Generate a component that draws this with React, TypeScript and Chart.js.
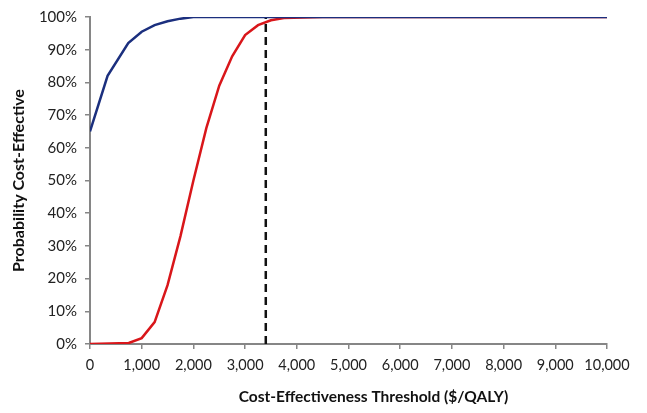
import React, { useEffect, useRef } from "react";
import { Chart, registerables } from "chart.js";

Chart.register(...registerables);

const xTickValues = [0, 1000, 2000, 3000, 4000, 5000, 6000, 7000, 8000, 9000, 10000];
const yTickValues = [0, 10, 20, 30, 40, 50, 60, 70, 80, 90, 100];

const blueX = [0, 340, 740, 1000, 1250, 1500, 1750, 2000, 10000];
const blueY = [65, 82, 92, 95.5, 97.5, 98.7, 99.5, 100, 100];

const redX = [0, 750, 1000, 1250, 1500, 1750, 2000, 2250, 2500, 2750, 3000, 3250, 3500, 3750, 4500, 10000];
const redY = [0, 0.3, 1.8, 6.7, 18, 33, 50, 66, 79, 88, 94.5, 97.5, 99, 99.7, 100, 100];

const thresholdX = [3400, 3400];
const thresholdY = [0, 100];

const xTitle = "Cost-Effectiveness Threshold ($/QALY)";
const yTitle = "Probability Cost-Effective";

const toPoints = (xs: number[], ys: number[]) => xs.map((x, i) => ({ x, y: ys[i] }));

const xTitlePlugin = {
  id: "xTitleOffset",
  afterDraw(chart: any) {
    const c = chart.ctx;
    const area = chart.chartArea;
    c.save();
    c.font = "bold 15.5px Lato";
    c.fillStyle = "#111";
    c.textAlign = "center";
    c.textBaseline = "middle";
    c.fillText(xTitle, (area.left + area.right) / 2 + 25, chart.height - 16);
    c.restore();
  },
};

export default function App() {
  const ref = useRef<HTMLCanvasElement | null>(null);
  useEffect(() => {
    document.body.style.margin = "0";
    const ctx = ref.current!.getContext("2d")!;
    const axisColor = "#868686";
    const chart = new Chart(ctx, {
      type: "scatter",
      data: {
        datasets: [
          {
            data: toPoints(blueX, blueY),
            showLine: true,
            borderColor: "#1b2f7e",
            borderWidth: 2.5,
            pointRadius: 0,
            tension: 0,
            order: 0,
          },
          {
            data: toPoints(thresholdX, thresholdY),
            showLine: true,
            borderColor: "#111111",
            borderWidth: 2.5,
            borderDash: [8, 5],
            pointRadius: 0,
            order: 1,
          },
          {
            data: toPoints(redX, redY),
            showLine: true,
            borderColor: "#d9161a",
            borderWidth: 2.5,
            pointRadius: 0,
            tension: 0,
            order: 2,
          },
        ],
      },
      plugins: [xTitlePlugin],
      options: {
        animation: false,
        responsive: false,
        layout: { padding: { left: 0, right: 40, top: 15, bottom: 0 } },
        plugins: { legend: { display: false }, tooltip: { enabled: false } },
        scales: {
          x: {
            type: "linear",
            min: 0,
            max: 10000,
            afterFit: (s: any) => { s.height = 69; },
            afterBuildTicks: (s: any) => { s.ticks = xTickValues.map((v) => ({ value: v })); },
            ticks: {
              color: "#222",
              font: { family: "Lato", size: 14.5 },
              padding: 8,
              maxRotation: 0,
              callback: (v: any) => Number(v).toLocaleString("en-US"),
            },
            grid: { display: true, drawOnChartArea: false, drawTicks: true, tickLength: 5, color: axisColor, lineWidth: 1.5 },
            border: { display: true, color: axisColor, width: 2 },
            title: { display: false },
          },
          y: {
            min: 0,
            max: 100,
            afterFit: (s: any) => { s.width = 90; },
            afterBuildTicks: (s: any) => { s.ticks = yTickValues.map((v) => ({ value: v })); },
            ticks: {
              color: "#222",
              font: { family: "Lato", size: 15 },
              padding: 8,
              callback: (v: any) => v + "%",
            },
            grid: { display: true, drawOnChartArea: false, drawTicks: true, tickLength: 5, color: axisColor, lineWidth: 1.5 },
            border: { display: true, color: axisColor, width: 2 },
            title: {
              display: true,
              text: yTitle,
              color: "#111",
              font: { family: "Lato", size: 16, weight: "bold" },
              padding: { top: 9, bottom: 0 },
            },
          },
        },
      },
    } as any);
    return () => chart.destroy();
  }, []);
  return (
    <div style={{ position: "absolute", left: 0, top: 0, width: 647, height: 413, background: "#fff" }}>
      <canvas ref={ref} width={647} height={413} style={{ display: "block" }} />
    </div>
  );
}
